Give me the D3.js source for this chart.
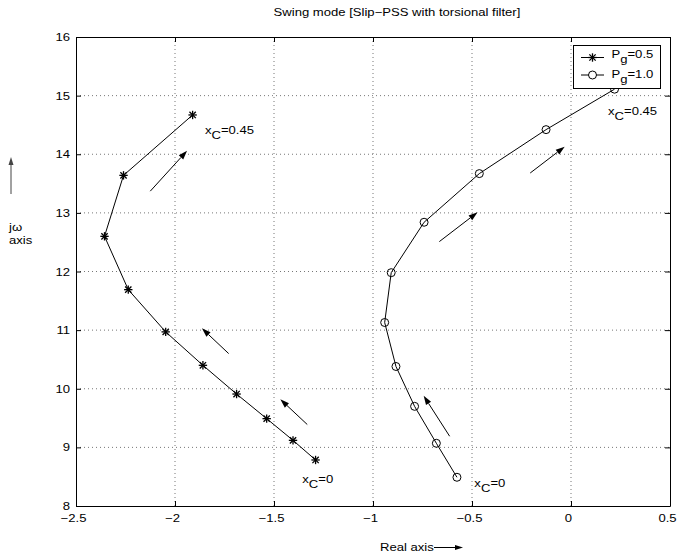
<!DOCTYPE html>
<html><head><meta charset="utf-8">
<script src="https://cdn.jsdelivr.net/npm/d3@7"></script>
<style>body{margin:0;background:#fff}svg{display:block}text{font-family:"Liberation Sans",Arial,sans-serif}</style>
</head><body><svg id="c" width="678" height="554"></svg>
<script>
const titleText = "Swing mode [Slip\u2212PSS with torsional filter]";
const xTicks = [-2.5, -2, -1.5, -1, -0.5, 0, 0.5];
const yTicks = [8, 9, 10, 11, 12, 13, 14, 15, 16];
// Pg = 0.5 (stars)
const pg05X = [-1.290, -1.404, -1.537, -1.689, -1.859, -2.047, -2.236, -2.356, -2.260, -1.911];
const pg05Y = [8.785, 9.12, 9.49, 9.91, 10.40, 10.97, 11.69, 12.60, 13.64, 14.67];
// Pg = 1.0 (circles)
const pg10X = [-0.576, -0.680, -0.790, -0.884, -0.941, -0.908, -0.742, -0.463, -0.126, 0.220];
const pg10Y = [8.49, 9.07, 9.70, 10.38, 11.13, 11.98, 12.84, 13.67, 14.42, 15.11];
// direction arrows [x0, y0, x1, y1]
const arrows = [
  [-1.332, 9.39, -1.468, 9.82],
  [-1.729, 10.60, -1.864, 11.03],
  [-2.125, 13.37, -1.939, 14.06],
  [-0.613, 9.19, -0.744, 9.88],
  [-0.665, 12.51, -0.472, 13.01],
  [-0.206, 13.68, -0.032, 14.13]
];
// annotations: [x, y, value]
const notes = [
  [-1.849, 14.34, "0.45"],
  [-1.357, 8.39, "0"],
  [0.187, 14.67, "0.45"],
  [-0.488, 8.32, "0"]
];

const SX = 1.19;
function stretch(sel) {
  sel.each(function () {
    const t = d3.select(this);
    const xx = +t.attr("x") || 0;
    t.attr("transform", `translate(${xx},0) scale(${SX},1) translate(${-xx},0)`);
  });
}

const svg = d3.select("#c");
const L = 76, R = 670, T = 37, B = 506;
const x = d3.scaleLinear().domain([-2.5, 0.5]).range([L, R]);
const y = d3.scaleLinear().domain([8, 16]).range([B, T]);
const fmt = d => (d < 0 ? "\u2212" : "") + Math.abs(d);

// grid
const g = svg.append("g");
g.selectAll(".gx").data(xTicks.slice(1, -1)).join("line")
  .attr("x1", d => x(d)).attr("x2", d => x(d)).attr("y1", T).attr("y2", B)
  .attr("stroke", "#777").attr("stroke-width", 1).attr("stroke-dasharray", "1,3");
g.selectAll(".gy").data(yTicks.slice(1, -1)).join("line")
  .attr("y1", d => y(d)).attr("y2", d => y(d)).attr("x1", L).attr("x2", R)
  .attr("stroke", "#777").attr("stroke-width", 1).attr("stroke-dasharray", "1,3");

// axes
const axB = d3.axisBottom(x).tickValues(xTicks).tickFormat(fmt).tickSizeInner(-5).tickSizeOuter(0).tickPadding(8);
const axL = d3.axisLeft(y).tickValues(yTicks).tickFormat(d3.format("d")).tickSizeInner(-5).tickSizeOuter(0).tickPadding(6);
const axT = d3.axisTop(x).tickValues(xTicks).tickFormat("").tickSizeInner(-5).tickSizeOuter(0);
const axR = d3.axisRight(y).tickValues(yTicks).tickFormat("").tickSizeInner(-5).tickSizeOuter(0);
[[axB, `translate(0,${B})`], [axL, `translate(${L},0)`], [axT, `translate(0,${T})`], [axR, `translate(${R},0)`]].forEach(([a, t], i) => {
  const gg = svg.append("g").attr("transform", t).call(a);
  const tx = gg.selectAll("text").attr("font-size", 11).attr("fill", "#000").style("font-family", '"Liberation Sans",Arial,sans-serif');
  if (i === 0) tx.attr("x", -3);
  tx.call(stretch);
  gg.select(".domain").attr("stroke", "#000");
  gg.selectAll(".tick line").attr("stroke", "#000");
});

// lines
const line = d3.line().x(d => x(d[0])).y(d => y(d[1]));
const s1 = pg05X.map((v, i) => [v, pg05Y[i]]);
const s2 = pg10X.map((v, i) => [v, pg10Y[i]]);
svg.append("path").datum(s1).attr("d", line).attr("fill", "none").attr("stroke", "#000").attr("stroke-width", 1);
svg.append("path").datum(s2).attr("d", line).attr("fill", "none").attr("stroke", "#000").attr("stroke-width", 1);

function star(sel, cx, cy, r) {
  const gg = sel.append("g").attr("stroke", "#000").attr("stroke-width", 1.3);
  gg.append("line").attr("x1", cx - r).attr("x2", cx + r).attr("y1", cy).attr("y2", cy);
  gg.append("line").attr("x1", cx).attr("x2", cx).attr("y1", cy - r).attr("y2", cy + r);
  const k = r * 0.75;
  gg.append("line").attr("x1", cx - k).attr("x2", cx + k).attr("y1", cy - k).attr("y2", cy + k);
  gg.append("line").attr("x1", cx - k).attr("x2", cx + k).attr("y1", cy + k).attr("y2", cy - k);
}
s1.forEach(d => star(svg, x(d[0]), y(d[1]), 4.2));
svg.selectAll(".c2").data(s2).join("circle")
  .attr("cx", d => x(d[0])).attr("cy", d => y(d[1])).attr("r", 4)
  .attr("fill", "none").attr("stroke", "#000").attr("stroke-width", 1);

// arrows
function arrow(sel, x0, y0, x1, y1, hl, hw, col) {
  const dx = x1 - x0, dy = y1 - y0, len = Math.hypot(dx, dy), ux = dx / len, uy = dy / len;
  const bx = x1 - ux * hl, by = y1 - uy * hl;
  sel.append("line").attr("x1", x0).attr("y1", y0).attr("x2", bx).attr("y2", by).attr("stroke", col).attr("stroke-width", 1);
  sel.append("path").attr("d", `M${x1},${y1}L${bx - uy * hw},${by + ux * hw}L${bx + uy * hw},${by - ux * hw}Z`).attr("fill", col);
}
arrows.forEach(a => arrow(svg, x(a[0]), y(a[1]), x(a[2]), y(a[3]), 9, 3, "#000"));

// annotations
notes.forEach(n => {
  const t = svg.append("text").attr("x", x(n[0])).attr("y", y(n[1])).attr("font-size", 11);
  t.append("tspan").text("x");
  t.append("tspan").attr("dy", 5).text("C");
  t.append("tspan").attr("dy", -5).text("=" + n[2]);
  stretch(t);
});

// legend
const lg = svg.append("g");
lg.append("rect").attr("x", 573.5).attr("y", 45.5).attr("width", 87).attr("height", 43).attr("fill", "#fff").attr("stroke", "#000");
const legendRows = [["0.5", 57.5, 58.5], ["1.0", 75, 78]];
legendRows.forEach((r, i) => {
  lg.append("line").attr("x1", 581).attr("x2", 604).attr("y1", r[1]).attr("y2", r[1]).attr("stroke", "#000");
  if (i === 0) star(lg, 592.5, r[1], 4.2);
  else lg.append("circle").attr("cx", 592.5).attr("cy", r[1]).attr("r", 4).attr("fill", "#fff").attr("stroke", "#000");
  const t = lg.append("text").attr("x", 611.5).attr("y", r[2]).attr("font-size", 11);
  t.append("tspan").text("P");
  t.append("tspan").attr("dy", 5).text("g");
  t.append("tspan").attr("dy", -5).text("=" + r[0]);
  stretch(t);
});

// title
svg.append("text").attr("x", 397).attr("y", 16).attr("text-anchor", "middle").attr("font-size", 11).text(titleText).call(stretch);

// x label
svg.append("text").attr("x", 380).attr("y", 551).attr("font-size", 11).text("Real axis").call(stretch);
arrow(svg, 434, 547.5, 463, 547.5, 8, 2.5, "#000");

// y label
svg.append("text").attr("x", 9).attr("y", 231).attr("font-size", 11).text("j\u03c9").call(stretch);
svg.append("text").attr("x", 9).attr("y", 244).attr("font-size", 11).text("axis").call(stretch);
arrow(svg, 11, 194, 11, 157, 8, 2.5, "#444");
</script></body></html>
